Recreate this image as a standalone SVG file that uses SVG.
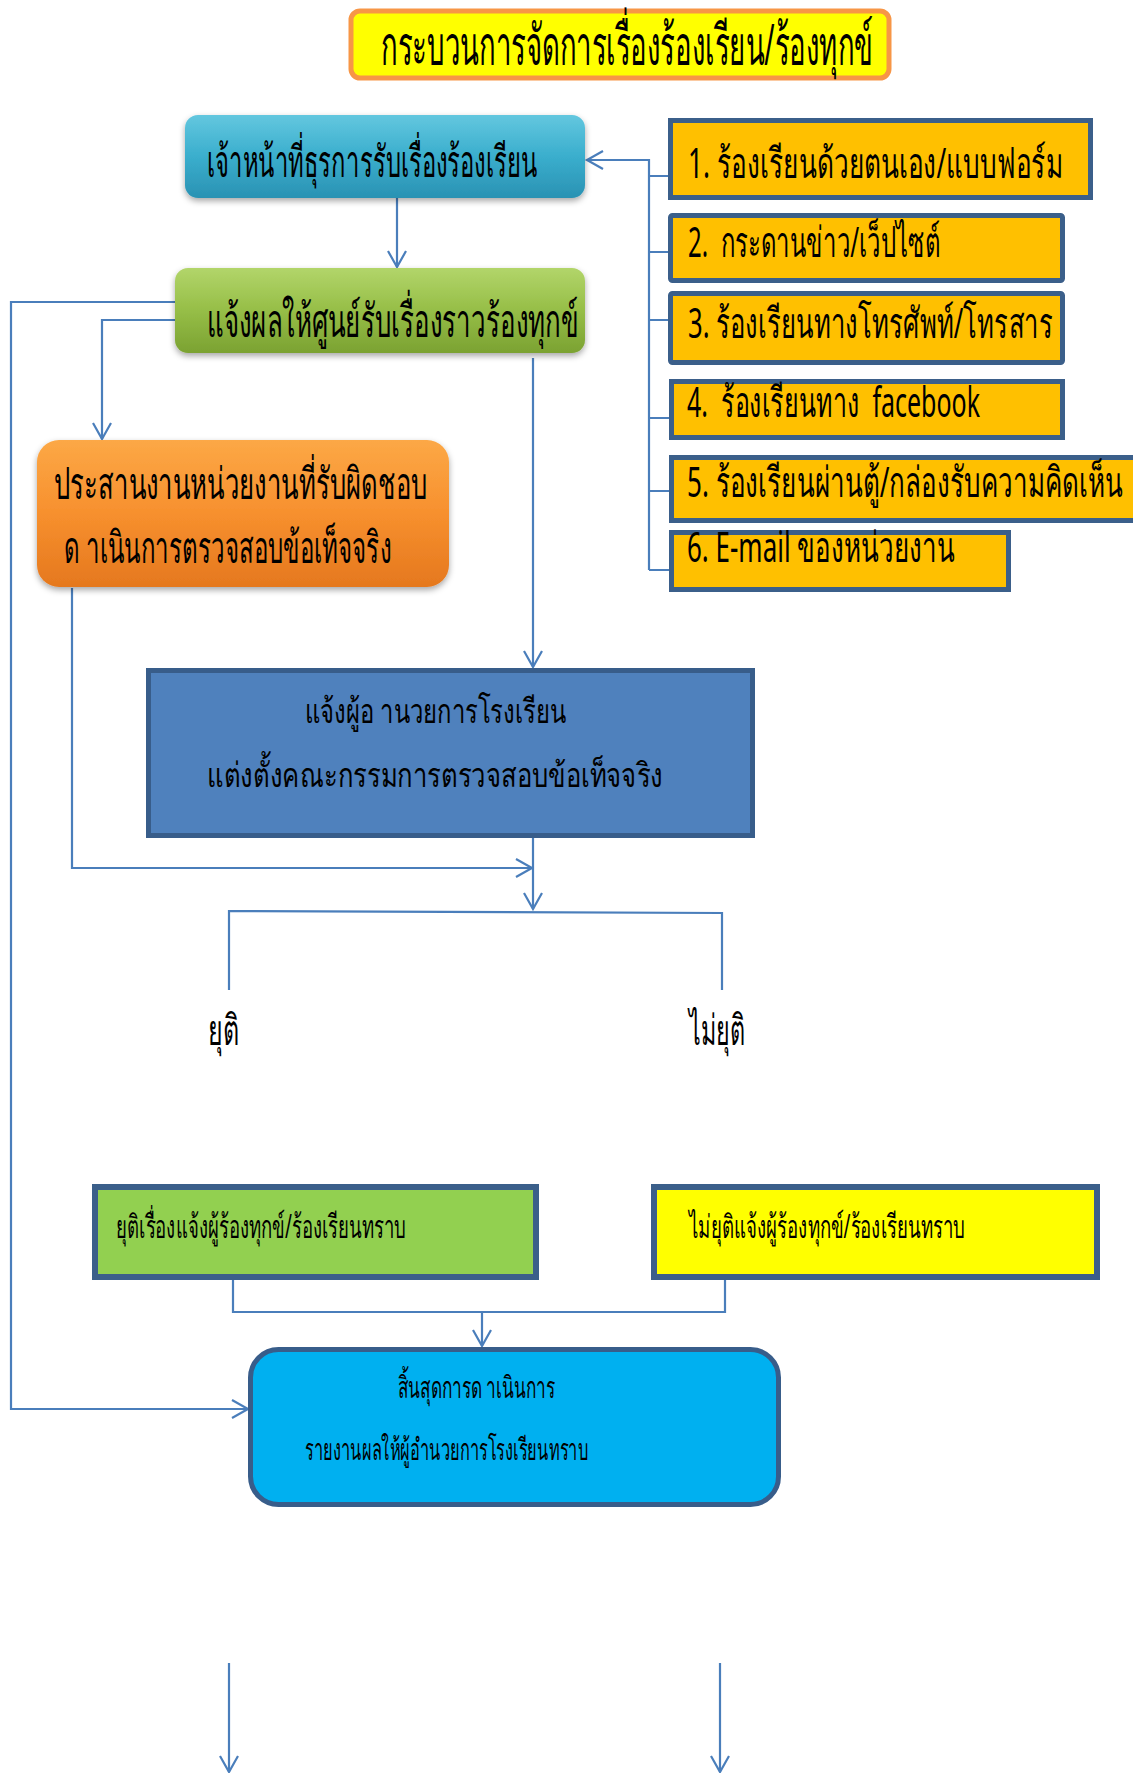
<svg xmlns="http://www.w3.org/2000/svg" width="1133" height="1773" viewBox="0 0 1133 1773">
<defs>
<style>
text{font-family:"Noto Sans","Liberation Sans","DejaVu Sans",sans-serif;fill:#000;}
.conn{fill:none;stroke:#4A7EBB;stroke-width:2.2;}
.box{fill:#FFC000;stroke:#3B5F8A;stroke-width:5;}
</style>
<linearGradient id="gTeal" x1="0" y1="0" x2="0" y2="1">
<stop offset="0" stop-color="#63C7DF"/><stop offset="0.5" stop-color="#3AAECD"/><stop offset="1" stop-color="#2A92B3"/>
</linearGradient>
<linearGradient id="gGreen" x1="0" y1="0" x2="0" y2="1">
<stop offset="0" stop-color="#B2D56A"/><stop offset="0.5" stop-color="#96BE47"/><stop offset="1" stop-color="#7BA232"/>
</linearGradient>
<linearGradient id="gOrange" x1="0" y1="0" x2="0" y2="1">
<stop offset="0" stop-color="#FCA846"/><stop offset="0.5" stop-color="#F7902E"/><stop offset="1" stop-color="#E5781E"/>
</linearGradient>
<filter id="sh" x="-10%" y="-10%" width="120%" height="140%">
<feDropShadow dx="0" dy="3" stdDeviation="3" flood-color="#000" flood-opacity="0.35"/>
</filter>
<marker id="arr" markerUnits="userSpaceOnUse" markerWidth="22" markerHeight="22" refX="18" refY="11" orient="auto" viewBox="0 0 22 22">
<path d="M2,2 L18,11 L2,20" fill="none" stroke="#4A7EBB" stroke-width="2.2"/>
</marker>
</defs>
<rect width="1133" height="1773" fill="#fff"/>

<g id="title">
<rect x="351" y="11" width="538" height="67" rx="9" fill="#FFFF00" stroke="#F79646" stroke-width="5"/>
<text x="381" y="65" font-size="56" textLength="492" lengthAdjust="spacingAndGlyphs">กระบวนการจัดการเรื่องร้องเรียน/ร้องทุกข์</text>
</g>

<g id="connectors">
<path class="conn" d="M649,570 V160 H587" marker-end="url(#arr)"/>
<path class="conn" d="M649,176 H670 M649,252 H670 M649,320 H670 M649,418 H671 M649,491 H671 M649,570 H671"/>
<path class="conn" d="M397,198 V267" marker-end="url(#arr)"/>
<path class="conn" d="M175,302 H11 V1409 H248" marker-end="url(#arr)"/>
<path class="conn" d="M175,320 H102 V439" marker-end="url(#arr)"/>
<path class="conn" d="M533,358 V667" marker-end="url(#arr)"/>
<path class="conn" d="M72,588 V868 H532" marker-end="url(#arr)"/>
<path class="conn" d="M533,838 V909" marker-end="url(#arr)"/>
<path class="conn" d="M229,990 V911 L722,913 V990"/>
<path class="conn" d="M233,1280 V1312 H725 V1280"/>
<path class="conn" d="M482,1312 V1346" marker-end="url(#arr)"/>
<path class="conn" d="M229,1663 V1772" marker-end="url(#arr)"/>
<path class="conn" d="M720,1663 V1772" marker-end="url(#arr)"/>
</g>

<g id="node-officer">
<rect x="185" y="115" width="400" height="83" rx="13" fill="url(#gTeal)" filter="url(#sh)"/>
<text x="207" y="177" font-size="44" textLength="330" lengthAdjust="spacingAndGlyphs">เจ้าหน้าที่ธุรการรับเรื่องร้องเรียน</text>
</g>

<g id="node-notify-center">
<rect x="175" y="268" width="410" height="85" rx="13" fill="url(#gGreen)" filter="url(#sh)"/>
<text x="207" y="337" font-size="46" textLength="371" lengthAdjust="spacingAndGlyphs">แจ้งผลให้ศูนย์รับเรื่องราวร้องทุกข์</text>
</g>

<g id="channel-1">
<rect class="box" x="670.5" y="120.5" width="420" height="77"/>
<text x="688" y="178" font-size="42" textLength="375" lengthAdjust="spacingAndGlyphs" xml:space="preserve">1. ร้องเรียนด้วยตนเอง/แบบฟอร์ม</text>
</g>
<g id="channel-2">
<rect class="box" x="670.5" y="215.5" width="392" height="65" rx="2"/>
<text x="688" y="257" font-size="42" textLength="252" lengthAdjust="spacingAndGlyphs" xml:space="preserve">2.  กระดานข่าว/เว็ปไซต์</text>
</g>
<g id="channel-3">
<rect class="box" x="670.5" y="293.5" width="392" height="69" rx="2"/>
<text x="688" y="338" font-size="42" textLength="365" lengthAdjust="spacingAndGlyphs" xml:space="preserve">3. ร้องเรียนทางโทรศัพท์/โทรสาร</text>
</g>
<g id="channel-4">
<rect class="box" x="671.5" y="381.5" width="391" height="56"/>
<text x="687" y="417" font-size="42" textLength="293" lengthAdjust="spacingAndGlyphs" xml:space="preserve">4.  ร้องเรียนทาง  facebook</text>
</g>
<g id="channel-5">
<rect class="box" x="671.5" y="457.5" width="470" height="63"/>
<text x="687" y="497" font-size="42" textLength="436" lengthAdjust="spacingAndGlyphs" xml:space="preserve">5. ร้องเรียนผ่านตู้/กล่องรับความคิดเห็น</text>
</g>
<g id="channel-6">
<rect class="box" x="671.5" y="532.5" width="337" height="57"/>
<text x="687" y="562" font-size="42" textLength="268" lengthAdjust="spacingAndGlyphs" xml:space="preserve">6. E-mail ของหน่วยงาน</text>
</g>

<g id="node-coordinate">
<rect x="37" y="440" width="412" height="147" rx="22" fill="url(#gOrange)" filter="url(#sh)"/>
<text x="54" y="499" font-size="44" textLength="373" lengthAdjust="spacingAndGlyphs">ประสานงานหน่วยงานที่รับผิดชอบ</text>
<text x="64" y="563" font-size="44" textLength="327" lengthAdjust="spacingAndGlyphs" xml:space="preserve">ด าเนินการตรวจสอบข้อเท็จจริง</text>
</g>

<g id="node-director">
<rect x="148.5" y="670.5" width="604" height="165" fill="#4F81BD" stroke="#385D8A" stroke-width="5"/>
<text x="305" y="723" font-size="34" textLength="261" lengthAdjust="spacingAndGlyphs" xml:space="preserve">แจ้งผู้อ านวยการโรงเรียน</text>
<text x="207" y="787" font-size="34" textLength="456" lengthAdjust="spacingAndGlyphs">แต่งตั้งคณะกรรมการตรวจสอบข้อเท็จจริง</text>
</g>

<g id="label-end">
<text x="208" y="1045" font-size="42" textLength="31" lengthAdjust="spacingAndGlyphs">ยุติ</text>
</g>
<g id="label-notend">
<text x="689" y="1045" font-size="42" textLength="56" lengthAdjust="spacingAndGlyphs">ไม่ยุติ</text>
</g>

<g id="node-end-notify">
<rect x="95" y="1187" width="441" height="90" fill="#92D050" stroke="#3B5F8A" stroke-width="6"/>
<text x="116" y="1238" font-size="32" textLength="290" lengthAdjust="spacingAndGlyphs">ยุติเรื่องแจ้งผู้ร้องทุกข์/ร้องเรียนทราบ</text>
</g>
<g id="node-notend-notify">
<rect x="654" y="1187" width="443" height="90" fill="#FFFF00" stroke="#3B5F8A" stroke-width="6"/>
<text x="689" y="1238" font-size="32" textLength="276" lengthAdjust="spacingAndGlyphs">ไม่ยุติแจ้งผู้ร้องทุกข์/ร้องเรียนทราบ</text>
</g>

<g id="node-final">
<rect x="250.5" y="1349.5" width="528" height="155" rx="28" fill="#00B0F0" stroke="#385D8A" stroke-width="5"/>
<text x="398" y="1398" font-size="30" textLength="157" lengthAdjust="spacingAndGlyphs" xml:space="preserve">สิ้นสุดการด าเนินการ</text>
<text x="305" y="1460" font-size="30" textLength="283" lengthAdjust="spacingAndGlyphs">รายงานผลให้ผู้อำนวยการโรงเรียนทราบ</text>
</g>
</svg>
